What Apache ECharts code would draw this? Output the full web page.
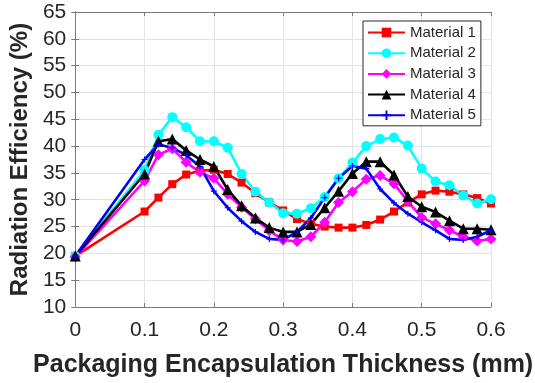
<!DOCTYPE html>
<html>
<head>
<meta charset="utf-8">
<script src="https://cdn.jsdelivr.net/npm/echarts@6/dist/echarts.min.js"></script>
<style>
  html, body { margin: 0; padding: 0; background: #ffffff; }
  #chart { width: 535px; height: 383px; }
</style>
</head>
<body>
<div id="chart"></div>
<script>
// Thickness samples (mm)
const thickness = [0, 0.1, 0.12, 0.14, 0.16, 0.18, 0.2, 0.22, 0.24, 0.26, 0.28, 0.3, 0.32, 0.34,
                   0.36, 0.38, 0.4, 0.42, 0.44, 0.46, 0.48, 0.5, 0.52, 0.54, 0.56, 0.58, 0.6];

// Radiation efficiency (%) for each material
const material1 = [19.5, 27.8, 30.4, 32.9, 34.7, 35.4, 35.6, 34.8, 33.2, 31.2, 29.5, 28.0, 26.4, 25.5,
                   25.0, 24.8, 24.8, 25.3, 26.3, 27.8, 29.5, 31.0, 31.7, 31.5, 31.0, 30.3, 29.3];
const material2 = [19.5, 35.5, 42.1, 45.4, 43.5, 40.9, 40.9, 39.7, 34.8, 31.5, 29.5, 27.5, 27.4, 28.4,
                   30.5, 34.0, 36.9, 40.0, 41.3, 41.6, 40.1, 35.8, 33.4, 32.7, 30.8, 29.3, 30.1];
const material3 = [19.3, 33.5, 38.4, 39.5, 37.0, 35.1, 34.0, 31.0, 28.6, 26.4, 24.2, 22.5, 22.2, 23.1,
                   25.8, 29.5, 31.5, 33.8, 34.5, 33.0, 29.7, 26.7, 25.5, 24.3, 23.1, 22.3, 22.7];
const material4 = [19.5, 34.8, 40.9, 41.3, 39.2, 37.5, 36.2, 31.9, 28.9, 26.6, 24.8, 24.0, 24.0, 25.4,
                   28.5, 31.6, 34.9, 37.1, 37.1, 34.6, 30.6, 28.7, 27.7, 26.1, 24.6, 24.6, 24.4];
const material5 = [19.5, 37.5, 40.3, 39.7, 38.3, 36.2, 31.6, 28.5, 26.0, 24.0, 22.7, 22.5, 24.0, 26.6,
                   30.4, 34.0, 36.3, 35.8, 32.0, 29.4, 27.4, 25.8, 24.3, 22.7, 22.5, 23.1, 24.3];

const seriesNames = ['Material 1', 'Material 2', 'Material 3', 'Material 4', 'Material 5'];

const FONT = '"Liberation Sans", Arial, sans-serif';
const TEXT = '#262626';
const FRAME = '#7a7a7a';
const PLUS = 'path://M4,0H6V4H10V6H6V10H4V6H0V4H4Z';

function pairs(values) {
  return thickness.map((t, i) => [t, values[i]]);
}

function line(name, values, color, symbol, size) {
  return {
    name: name,
    type: 'line',
    data: pairs(values),
    symbol: symbol,
    symbolSize: size,
    showAllSymbol: true,
    lineStyle: { color: color, width: 2.6 },
    itemStyle: { color: color, borderWidth: 0 },
    emphasis: { disabled: true },
    animation: false,
    z: 3
  };
}

const chart = echarts.init(document.getElementById('chart'), null, { renderer: 'canvas' });

const baseAxis = {
  axisLine: { show: true, lineStyle: { color: FRAME, width: 1 } },
  axisTick: { show: true, inside: true, length: 4, lineStyle: { color: FRAME, width: 1 } },
  splitLine: { show: false }
};

chart.setOption({
  backgroundColor: '#ffffff',
  animation: false,
  grid: { left: 72, right: 44, top: 12, bottom: 70, containLabel: false },
  legend: {
    orient: 'vertical',
    left: 363,
    top: 21,
    data: seriesNames,
    itemWidth: 37,
    itemHeight: 12,
    itemGap: 5.7,
    padding: [4, 5, 3, 4],
    backgroundColor: '#ffffff',
    borderColor: '#2b2b2b',
    borderWidth: 1,
    borderRadius: 0,
    textStyle: { fontFamily: FONT, fontSize: 15, lineHeight: 15, color: TEXT },
    selectedMode: false
  },
  xAxis: [
    Object.assign({}, baseAxis, {
      type: 'value',
      min: 0, max: 0.6, interval: 0.1,
      position: 'bottom',
      axisLabel: {
        fontFamily: FONT, fontSize: 21, color: TEXT, margin: 13,
        formatter: v => (v === 0 ? '0' : v.toFixed(1))
      },
      splitLine: { show: true, lineStyle: { color: '#e3e3e3', width: 1 } },
      name: 'Packaging Encapsulation Thickness (mm)',
      nameLocation: 'middle',
      nameGap: 46,
      nameTextStyle: { fontFamily: FONT, fontSize: 25, fontWeight: 'bold', color: TEXT }
    }),
    Object.assign({}, baseAxis, {
      type: 'value',
      min: 0, max: 0.6, interval: 0.1,
      position: 'top',
      axisLabel: { show: false }
    })
  ],
  yAxis: [
    Object.assign({}, baseAxis, {
      type: 'value',
      min: 10, max: 65, interval: 5,
      position: 'left',
      axisLabel: { fontFamily: FONT, fontSize: 21, color: TEXT, margin: 9 },
      splitLine: { show: true, lineStyle: { color: '#e3e3e3', width: 1 } },
      name: 'Radiation Efficiency (%)',
      nameLocation: 'middle',
      nameGap: 38,
      nameTextStyle: { fontFamily: FONT, fontSize: 24, fontWeight: 'bold', color: TEXT }
    }),
    Object.assign({}, baseAxis, {
      type: 'value',
      min: 10, max: 65, interval: 5,
      position: 'right',
      axisLabel: { show: false }
    })
  ],
  series: [
    line(seriesNames[0], material1, '#ff0000', 'rect', 8),
    line(seriesNames[1], material2, '#00ffff', 'circle', 10),
    line(seriesNames[2], material3, '#ff00ff', 'diamond', 11),
    line(seriesNames[3], material4, '#000000', 'triangle', 11),
    line(seriesNames[4], material5, '#0000ff', PLUS, 6)
  ]
});
</script>
</body>
</html>
